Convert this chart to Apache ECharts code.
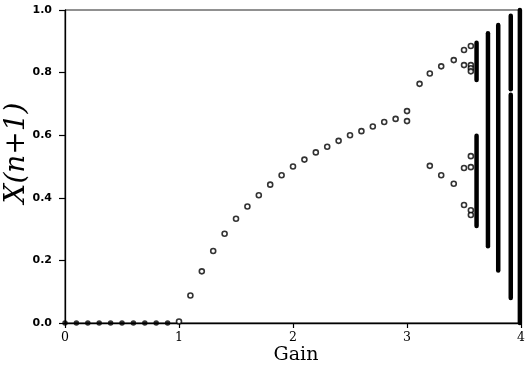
<!DOCTYPE html>
<html>
<head>
<meta charset="utf-8">
<script src="https://cdn.jsdelivr.net/npm/echarts@6/dist/echarts.min.js"></script>
<style>html,body{margin:0;padding:0;background:#fff;}#c{width:528px;height:369px;}</style>
</head>
<body>
<div id="c"></div>
<script>
// Filled dots: gain below 1, value 0
var fixedGain = [0, 0.1, 0.2, 0.3, 0.4, 0.5, 0.6, 0.7, 0.8, 0.9];
var fixedValue = [0, 0, 0, 0, 0, 0, 0, 0, 0, 0];
// Open circles (steady state / periodic points)
var orbitGain = [1.0, 1.1, 1.2, 1.3, 1.4, 1.5, 1.6, 1.7, 1.8, 1.9, 2.0, 2.1, 2.2, 2.3, 2.4, 2.5, 2.6, 2.7, 2.8, 2.9, 3.0, 3.0,
  3.11, 3.2, 3.2, 3.3, 3.3, 3.41, 3.41,
  3.5, 3.5, 3.5, 3.5,
  3.56, 3.56, 3.56, 3.56, 3.56, 3.56, 3.56, 3.56];
var orbitValue = [0.005, 0.088, 0.165, 0.23, 0.285, 0.333, 0.372, 0.408, 0.442, 0.472, 0.5, 0.522, 0.545, 0.563, 0.582, 0.6, 0.613, 0.628, 0.642, 0.652, 0.677, 0.645,
  0.764, 0.797, 0.502, 0.82, 0.472, 0.84, 0.445,
  0.872, 0.824, 0.495, 0.377,
  0.885, 0.824, 0.814, 0.804, 0.533, 0.498, 0.36, 0.345];
// Chaotic bands: gain, lower and upper bound
var bandGain = [3.61, 3.61, 3.71, 3.8, 3.91, 3.91, 3.99];
var bandLow = [0.776, 0.31, 0.245, 0.168, 0.747, 0.08, 0.0];
var bandHigh = [0.895, 0.598, 0.926, 0.952, 0.982, 0.729, 1.0];
var xTicks = ['0', '1', '2', '3', '4'];

var chart = echarts.init(document.getElementById('c'), null, {renderer: 'canvas'});
var fixedData = fixedGain.map(function (g, i) { return [g, fixedValue[i]]; });
var orbitData = orbitGain.map(function (g, i) { return [g, orbitValue[i]]; });
var bandData = bandGain.map(function (g, i) { return [g, bandLow[i], bandHigh[i]]; });

chart.setOption({
  animation: false,
  grid: {left: 65, right: 4, top: 10, bottom: 46, show: true, borderColor: '#222', borderWidth: 1, backgroundColor: 'transparent'},
  xAxis: {
    type: 'value', min: 0, max: 4, interval: 1,
    axisLine: {lineStyle: {color: '#000', width: 1.3}},
    axisTick: {inside: false, length: 5, lineStyle: {color: '#000', width: 1.2}},
    splitLine: {show: false},
    axisLabel: {margin: 8, color: '#000', fontSize: 12.5, fontFamily: 'DejaVu Serif',
      formatter: function (v) { return xTicks[Math.round(v)]; }}
  },
  yAxis: {
    type: 'value', min: 0, max: 1, interval: 0.2,
    axisLine: {lineStyle: {color: '#000', width: 1.3}},
    axisTick: {inside: false, length: 6, lineStyle: {color: '#000', width: 1.2}},
    splitLine: {show: false},
    axisLabel: {margin: 13, color: '#000', fontSize: 11, fontWeight: 'bold', fontFamily: 'DejaVu Sans',
      formatter: function (v) { return v.toFixed(1); }}
  },
  graphic: [
    {type: 'text', x: 17, y: 153, rotation: Math.PI / 2,
      style: {text: 'X(n+1)', font: 'italic 28px "DejaVu Serif"', fill: '#000', align: 'center', verticalAlign: 'middle'}},
    {type: 'text', x: 296, y: 355,
      style: {text: 'Gain', font: '19px "DejaVu Serif"', fill: '#000', align: 'center', verticalAlign: 'middle'}}
  ],
  series: [
    {type: 'scatter', data: fixedData, symbol: 'circle', symbolSize: 5.5,
      itemStyle: {color: '#000'}, z: 3},
    {type: 'scatter', data: orbitData, symbol: 'circle', symbolSize: 5,
      itemStyle: {color: '#fff', borderColor: '#000', borderWidth: 1.6}, z: 3},
    {type: 'custom', data: bandData, z: 4,
      renderItem: function (params, api) {
        var p1 = api.coord([api.value(0), api.value(1)]);
        var p2 = api.coord([api.value(0), api.value(2)]);
        return {type: 'line', shape: {x1: p1[0], y1: p1[1], x2: p2[0], y2: p2[1]},
          style: {stroke: '#000', lineWidth: 4.5, lineCap: 'round'}};
      },
      encode: {x: 0, y: [1, 2]}}
  ]
});
</script>
</body>
</html>
